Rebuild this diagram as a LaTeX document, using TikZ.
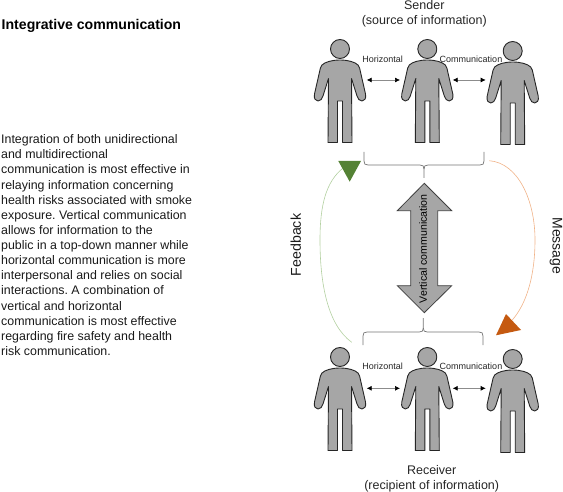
\documentclass[tikz,border=0pt]{standalone}
\usepackage{fontspec}
\setmainfont{Liberation Sans}
\usetikzlibrary{arrows.meta}
\definecolor{lgreen}{RGB}{178,208,160}
\definecolor{lorange}{RGB}{240,178,135}
\definecolor{dgreen}{RGB}{84,130,53}
\definecolor{dorange}{RGB}{197,90,17}
\tikzset{
  personshape/.style={draw=black!85,fill=black!35,line width=0.9pt,line join=round},
  lbl/.style={inner sep=0pt,font=\fontsize{9}{10}\selectfont,text=black!85},
  captiontext/.style={inner sep=0pt,align=center,font=\fontsize{12.5}{15.4}\selectfont,text=black!85},
  side/.style={inner sep=0pt,font=\fontsize{14.2}{15}\selectfont,text=black!90},
  hlink/.style={draw=black!45,line width=0.7pt,{Latex[length=5pt,width=5pt,black]}-{Latex[length=5pt,width=5pt,black]}},
  bracepath/.style={draw=black!55,line width=0.7pt,line join=round},
  pics/person/.style={code={
    \path[personshape] (0,0) circle[radius=9.5];
    \path[personshape] (0,11) .. controls (8,11) and (15,13) .. (18,16)
      .. controls (19.5,18) and (20,20) .. (20.5,23) -- (25.5,45)
      .. controls (26.5,50) and (24,52) .. (22,52)
      .. controls (19.5,52) and (18,50) .. (17,47)
      -- (11.5,29.5) -- (12,93.5) -- (2.5,93.5) -- (2.5,52) -- (-2.5,52) -- (-2.5,93.5) -- (-12,93.5)
      -- (-11.5,29.5) -- (-17,47)
      .. controls (-18,50) and (-19.5,52) .. (-22,52)
      .. controls (-24,52) and (-26.5,50) .. (-25.5,45)
      -- (-20.5,23) .. controls (-20,20) and (-19.5,18) .. (-18,16)
      .. controls (-15,13) and (-8,11) .. (0,11) -- cycle;
  }}
}
\begin{document}
\begin{tikzpicture}[x=1pt,y=-1pt]
\useasboundingbox (0,0) rectangle (563,492);
% text
\node[anchor=west,inner sep=0pt,font=\bfseries\fontsize{14.1}{16}\selectfont] (title) at (1.5,25.5) {Integrative communication};
\node[anchor=north west,inner sep=0pt,align=left,font=\fontsize{12.4}{15.13}\selectfont\frenchspacing,text=black!90] (body) at (1,134.5) {Integration of both unidirectional\\and multidirectional\\communication is most effective in\\relaying information concerning\\health risks associated with smoke\\exposure. Vertical communication\\allows for information to the\\public in a top-down manner while\\horizontal communication is more\\interpersonal and relies on social\\interactions. A combination of\\vertical and horizontal\\communication is most effective\\regarding fire safety and health\\risk communication.};
% people
\pic at (340,49) {person};
\pic at (427.3,49) {person};
\pic at (512.7,51) {person};
\pic at (340,357) {person};
\pic at (427.3,357) {person};
\pic at (512.7,359) {person};
% horizontal links
\coordinate (ta) at (366.7,80); \coordinate (tb) at (400,80);
\coordinate (tc) at (452.7,80); \coordinate (td) at (485.7,80);
\coordinate (ba) at (366.7,388.3); \coordinate (bb) at (400,388.3);
\coordinate (bc) at (452.7,388.3); \coordinate (bd) at (485.7,388.3);
\draw[hlink] (ta) -- (tb);
\draw[hlink] (tc) -- (td);
\draw[hlink] (ba) -- (bb);
\draw[hlink] (bc) -- (bd);
\node[lbl] (h1) at (382.7,59) {Horizontal};
\node[lbl] (c1) at (471,59) {Communication};
\node[lbl] (h2) at (382.7,366.7) {Horizontal};
\node[lbl] (c2) at (471,366.7) {Communication};
% captions
\node[captiontext] (sender) at (424.3,13.5) {Sender\\(source of information)};
\node[captiontext] (receiver) at (431.7,478.5) {Receiver\\(recipient of information)};
% braces
\path[bracepath] (364,152) -- (364,161) .. controls (364,164) and (365,165) .. (368,165)
  -- (420,165) .. controls (423,165) and (424,166) .. (424,169) -- (424,178);
\path[bracepath] (484,152) -- (484,161) .. controls (484,164) and (483,165) .. (480,165)
  -- (428,165) .. controls (425,165) and (424,166) .. (424,169);
\path[bracepath] (363,345) -- (363,336) .. controls (363,333) and (364,332) .. (367,332)
  -- (419.3,332) .. controls (422.3,332) and (423.3,331) .. (423.3,328) -- (423.3,318);
\path[bracepath] (483,345) -- (483,336) .. controls (483,333) and (482,332) .. (479,332)
  -- (427.3,332) .. controls (424.3,332) and (423.3,331) .. (423.3,328);
% vertical arrow
\path[draw=black!75,fill=black!35,line width=0.8pt,line join=miter] (424.3,183.3) -- (451.7,210.7) -- (437.7,210.7) -- (437.7,285.7) -- (451.7,285.7) -- (424.3,312.7) -- (397.3,285.7) -- (410.7,285.7) -- (410.7,210.7) -- (397.3,210.7) -- cycle;
\node[lbl,rotate=90,font=\fontsize{10.6}{12}\selectfont,text=black] (vert) at (423,248.7) {Vertical communication};
% curves
\coordinate (gs) at (351.7,342.3); \coordinate (ge) at (342.7,168.3);
\coordinate (os) at (489.3,160.7); \coordinate (oe) at (512.3,320);
\draw[lgreen,line width=0.6pt] (gs) .. controls (328,325) and (320,285) .. (320,240) .. controls (320,205) and (326,182) .. (ge);
\draw[lorange,line width=0.6pt] (os) .. controls (518,163) and (535,200) .. (535,240) .. controls (535,275) and (527,303) .. (oe);
\fill[dgreen] (338.3,161) -- (361,161) -- (349.7,181.7) -- cycle;
\fill[dorange] (506,314) -- (521,330) -- (496,335.3) -- cycle;
\node[side,rotate=90] (fb) at (295.7,245) {Feedback};
\node[side,rotate=-90,font=\fontsize{14}{15}\selectfont] (msg) at (556,245.8) {Message};
\end{tikzpicture}
\end{document}
